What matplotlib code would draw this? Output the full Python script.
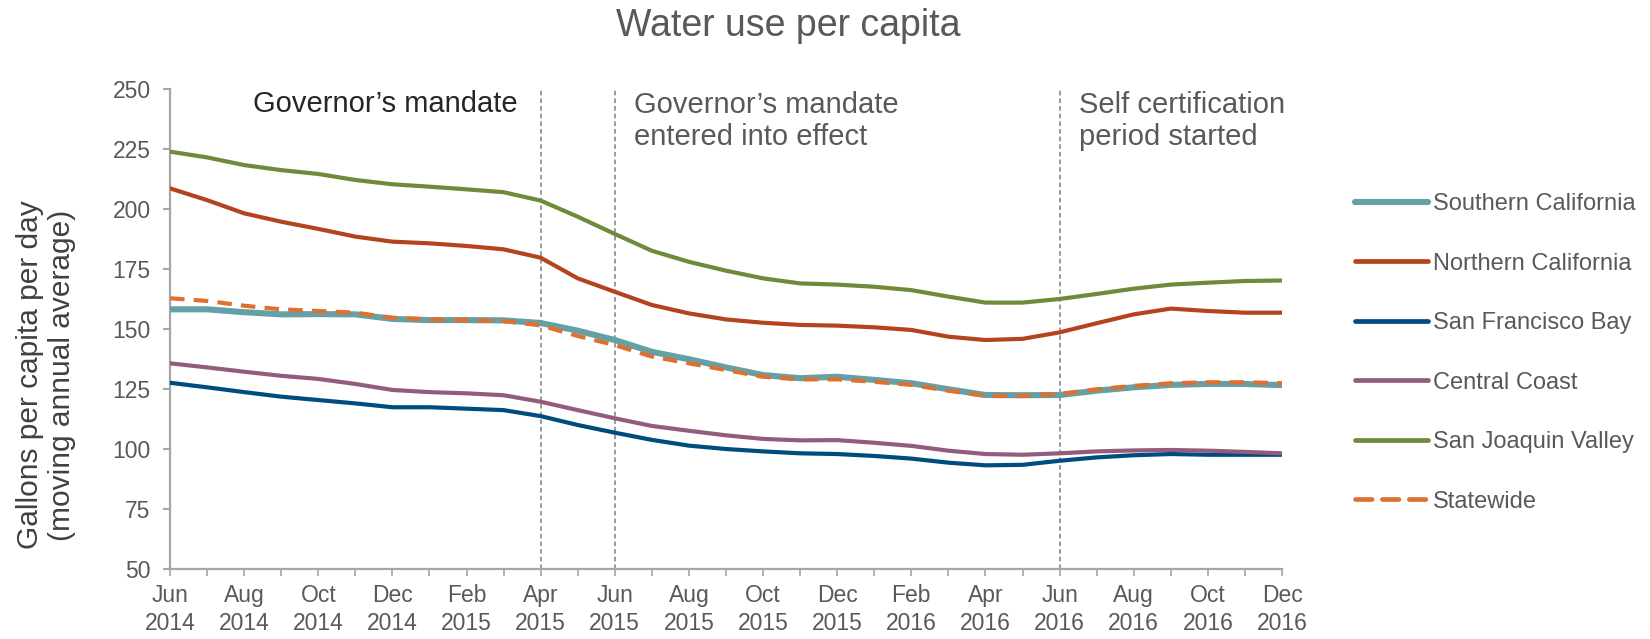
import matplotlib
matplotlib.use("Agg")
import matplotlib.pyplot as plt
from matplotlib.ticker import MultipleLocator
from matplotlib.lines import Line2D
import numpy as np

plt.rcParams["font.family"] = ["Liberation Sans", "DejaVu Sans"]

# Monthly moving-annual-average water use, Jun 2014 .. Dec 2016
month_labels = ["Jun\n2014", "Aug\n2014", "Oct\n2014", "Dec\n2014", "Feb\n2015",
                "Apr\n2015", "Jun\n2015", "Aug\n2015", "Oct\n2015", "Dec\n2015",
                "Feb\n2016", "Apr\n2016", "Jun\n2016", "Aug\n2016", "Oct\n2016",
                "Dec\n2016"]

southern_ca = [158.2, 158.2, 157.0, 156.1, 156.2, 156.1, 154.2, 153.7, 153.7, 153.6,
               152.5, 149.3, 145.4, 140.5, 137.4, 134.0, 130.8, 129.5, 130.1, 128.8,
               127.4, 124.9, 122.5, 122.4, 122.5, 124.3, 125.7, 126.7, 127.1, 127.1,
               126.6]
northern_ca = [208.6, 203.7, 198.2, 194.7, 191.7, 188.5, 186.4, 185.7, 184.6, 183.2,
               179.7, 171.1, 165.5, 160.0, 156.5, 154.0, 152.6, 151.7, 151.4, 150.7,
               149.6, 146.8, 145.4, 145.9, 148.6, 152.4, 156.1, 158.5, 157.5, 156.8,
               156.8]
sf_bay = [127.6, 125.7, 123.7, 121.8, 120.4, 119.0, 117.4, 117.4, 116.8, 116.2,
          113.7, 110.0, 106.8, 103.8, 101.4, 100.0, 99.0, 98.2, 97.9, 97.1,
          96.0, 94.3, 93.2, 93.4, 95.1, 96.5, 97.4, 97.9, 97.6, 97.6,
          97.6]
central_coast = [135.7, 134.0, 132.2, 130.5, 129.2, 127.1, 124.6, 123.7, 123.2, 122.4,
                 119.7, 116.2, 112.8, 109.6, 107.6, 105.7, 104.2, 103.6, 103.7, 102.6,
                 101.3, 99.3, 97.9, 97.6, 98.2, 99.0, 99.4, 99.6, 99.3, 98.8,
                 98.2]
san_joaquin = [223.9, 221.5, 218.3, 216.2, 214.6, 212.1, 210.3, 209.3, 208.2, 207.0,
               203.5, 196.8, 189.6, 182.6, 178.0, 174.3, 171.1, 169.0, 168.5, 167.6,
               166.2, 163.5, 161.0, 161.0, 162.5, 164.6, 166.8, 168.5, 169.3, 170.0,
               170.2]
statewide = [162.8, 161.7, 159.7, 158.2, 157.5, 156.8, 154.7, 154.0, 153.7, 153.3,
             151.5, 147.1, 143.3, 138.5, 135.7, 132.9, 130.1, 129.0, 129.0, 128.0,
             126.7, 124.3, 122.1, 122.1, 122.9, 124.9, 126.3, 127.4, 127.8, 127.8,
             127.4]

# month index of each policy event
event_months = [10, 12, 24]

x = np.arange(len(statewide))

fig = plt.figure(figsize=(16.5, 6.39), dpi=100)
ax = fig.add_axes([0.10303, 0.10955, 0.67394, 0.75117])

series = [
    ("Southern California", southern_ca, "#64A0A6", 4.4, "-"),
    ("Northern California", northern_ca, "#B4441E", 3.0, "-"),
    ("San Francisco Bay", sf_bay, "#004B80", 3.0, "-"),
    ("Central Coast", central_coast, "#945C7C", 3.0, "-"),
    ("San Joaquin Valley", san_joaquin, "#70893A", 3.0, "-"),
    ("Statewide", statewide, "#DE7030", 3.0, (0, (3.5, 2.2))),
]

handles = []
for name, vals, color, lw, ls in series:
    ax.plot(x, vals, color=color, lw=lw, linestyle=ls, solid_joinstyle="round",
            zorder=3)
    handles.append(Line2D([], [], color=color, lw=lw if lw > 3.5 else 3.4,
                          linestyle=ls, solid_capstyle="round",
                          dash_capstyle="round", label=name))

for m in event_months:
    ax.axvline(m, color="#7F7F7F", lw=1.1, linestyle=(0, (3, 2)), zorder=2)

ax.set_xlim(0, len(statewide) - 1)
ax.set_ylim(50, 250)
ax.yaxis.set_major_locator(MultipleLocator(25))
ax.set_xticks(x[::2])
ax.set_xticklabels(month_labels, fontsize=16.5, color="#595959", linespacing=1.25)
ax.set_xticks(x, minor=True)
ax.tick_params(axis="y", labelsize=16.5, labelcolor="#595959", color="#A6A6A6",
               length=5, width=1.5, pad=9)
ax.tick_params(axis="x", which="both", color="#A6A6A6", length=5, width=1.2, pad=6)

for side in ("top", "right"):
    ax.spines[side].set_visible(False)
for side in ("left", "bottom"):
    ax.spines[side].set_color("#A6A6A6")
    ax.spines[side].set_linewidth(1.6)

ax.text(2.24, 240.4, "Governor\u2019s mandate", fontsize=21, color="#262626",
        ha="left", va="baseline")
# multi-line labels are anchored on the baseline of their last line
ax.text(12.52, 226.7, "Governor\u2019s mandate\nentered into effect", fontsize=21,
        color="#595959", ha="left", va="baseline", linespacing=1.2)
ax.text(24.52, 226.7, "Self certification\nperiod started", fontsize=21,
        color="#595959", ha="left", va="baseline", linespacing=1.2)

fig.text(0.4775, 0.9437, "Water use per capita", fontsize=27, color="#595959",
         ha="center", va="baseline")
fig.text(0.028, 0.413, "Gallons per capita per day\n(moving annual average)",
         fontsize=21.5, color="#404040", rotation=90, ha="center", va="center",
         multialignment="center", linespacing=1.2)

fig.legend(handles=handles, loc="upper left", bbox_to_anchor=(0.8212, 0.698),
           frameon=False, fontsize=17, labelcolor="#595959", handlelength=3.1,
           handletextpad=0.2, labelspacing=1.59, borderpad=0, borderaxespad=0)

fig.savefig("out.png", dpi=100)
